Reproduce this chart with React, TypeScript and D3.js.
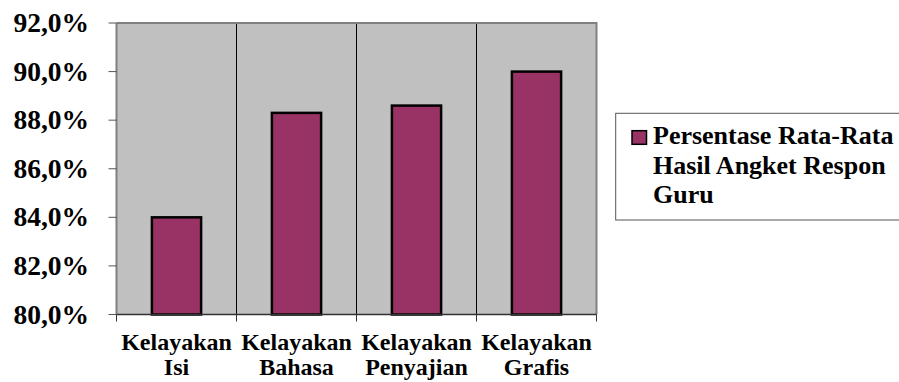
import React from "react";
import * as d3 from "d3";

const categories: string[][] = [
  ["Kelayakan", "Isi"],
  ["Kelayakan", "Bahasa"],
  ["Kelayakan", "Penyajian"],
  ["Kelayakan", "Grafis"],
];
const values: number[] = [84.0, 88.3, 88.6, 90.0];
const yTicks: number[] = [80, 82, 84, 86, 88, 90, 92];
const legendLines: string[] = ["Persentase Rata-Rata", "Hasil Angket Respon", "Guru"];

const W = 899;
const H = 382;
const plot = { left: 116.5, right: 596.5, top: 23, bottom: 314.5 };
const FONT = "Liberation Serif";
const BAR = "#993366";

const textStyle: React.CSSProperties = { fontFamily: FONT, fontWeight: 700 };

export default function App() {
  const keys = categories.map((c) => c.join(" "));
  const x = d3.scaleBand<string>().domain(keys).range([plot.left, plot.right]).padding(0);
  const y = d3.scaleLinear().domain([80, 92]).range([plot.bottom, plot.top]);
  const bw = x.bandwidth() * 0.41;
  const fmt = (v: number) => v.toFixed(1).replace(".", ",") + "%";

  return (
    <svg width={W} height={H} style={{ position: "absolute", left: 0, top: 0, background: "#fff" }}>
      <rect x={plot.left} y={plot.top} width={plot.right - plot.left} height={plot.bottom - plot.top} fill="#C0C0C0" />
      {keys.slice(1).map((k) => (
        <line key={k} x1={x(k)!} x2={x(k)!} y1={plot.top} y2={plot.bottom} stroke="#000" strokeWidth={1} />
      ))}
      <path
        d={`M${plot.left},${plot.top}H${plot.right}V${plot.bottom}`}
        fill="none"
        stroke="#808080"
        strokeWidth={2}
      />
      {values.map((v, i) => {
        const cx = x(keys[i])! + x.bandwidth() / 2;
        return (
          <rect
            key={i}
            x={cx - bw / 2}
            y={y(v)}
            width={bw}
            height={plot.bottom - y(v)}
            fill={BAR}
            stroke="#000"
            strokeWidth={2.5}
          />
        );
      })}
      <line x1={plot.left} x2={plot.left} y1={plot.top} y2={plot.bottom} stroke="#808080" strokeWidth={2} />
      {yTicks.map((t) => (
        <g key={t}>
          <line x1={plot.left - 8} x2={plot.left} y1={y(t)} y2={y(t)} stroke="#555" strokeWidth={1} />
          <text x={89} y={y(t)} dy="0.33em" textAnchor="end" style={{ ...textStyle, fontSize: 27.5 }} fill="#000">
            {fmt(t)}
          </text>
        </g>
      ))}
      <line x1={plot.left} x2={plot.right} y1={plot.bottom} y2={plot.bottom} stroke="#333" strokeWidth={1.5} />
      {[...keys.map((k) => x(k)!), plot.right].map((px, i) => (
        <line key={i} x1={px} x2={px} y1={plot.bottom} y2={plot.bottom + 7} stroke="#333" strokeWidth={1} />
      ))}
      {categories.map((c, i) => {
        const cx = x(keys[i])! + x.bandwidth() / 2;
        return (
          <text key={i} textAnchor="middle" style={{ ...textStyle, fontSize: 24 }} fill="#000">
            <tspan x={cx} y={350}>
              {c[0]}
            </tspan>
            <tspan x={cx} y={374.5}>
              {c[1]}
            </tspan>
          </text>
        );
      })}
      <rect x={615.7} y={113.3} width={320} height={106.7} fill="#fff" stroke="#555" strokeWidth={1} />
      <rect x={632} y={130.7} width={14.5} height={13.6} fill={BAR} stroke="#000" strokeWidth={1.5} />
      {legendLines.map((l, i) => (
        <text key={i} x={653} y={144.3 + i * 29.2} style={{ ...textStyle, fontSize: 26 }} fill="#000">
          {l}
        </text>
      ))}
    </svg>
  );
}
